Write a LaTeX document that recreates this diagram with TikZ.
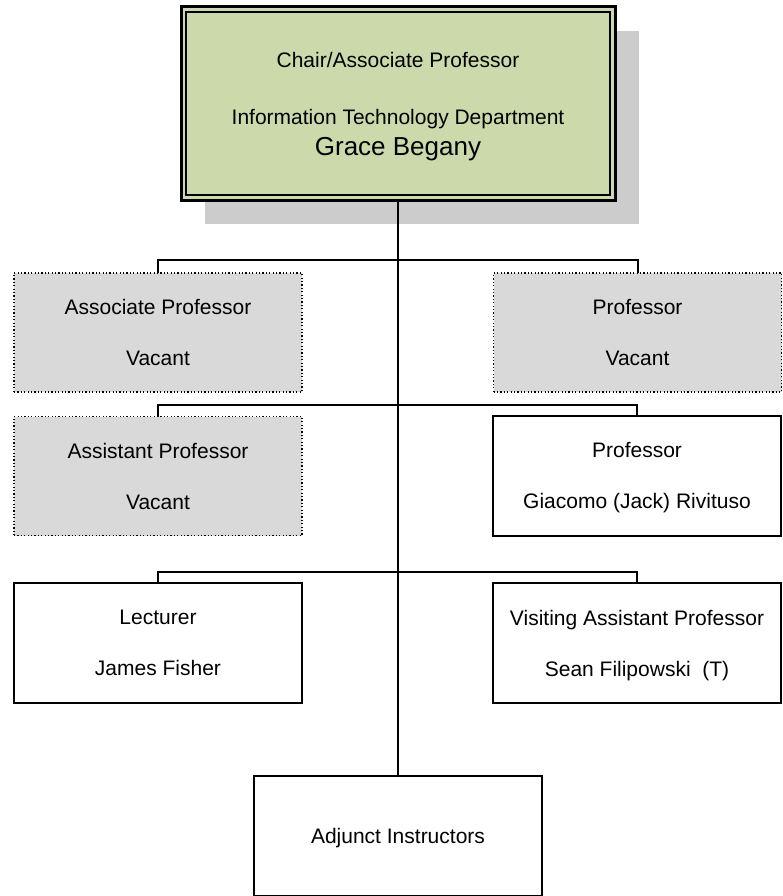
\documentclass[tikz,border=0pt]{standalone}
\usepackage{fontspec}
\setmainfont{Liberation Sans}
\usetikzlibrary{shadows}
\definecolor{chairgreen}{HTML}{CCDAAB}
\definecolor{vacantgrey}{HTML}{D9D9D9}
\definecolor{shadowgrey}{HTML}{CCCCCC}
\begin{document}
\begin{tikzpicture}[x=1pt,y=-1pt,
	chairbox/.style={draw,line width=3pt,outer sep=0pt,fill=chairgreen,minimum width=434pt,minimum height=193pt,align=center,text depth=-1.5pt,font=\fontsize{21}{25}\selectfont,drop shadow={shadow xshift=24pt,shadow yshift=-24pt,fill=shadowgrey,opacity=1}},
	vacantbox/.style={draw,line width=1.2pt,dash pattern=on 1.2pt off 2.2pt,outer sep=0pt,fill=vacantgrey,minimum width=288pt,minimum height=119pt,align=center,font=\fontsize{21}{51}\selectfont},
	staffbox/.style={draw,line width=2pt,outer sep=0pt,minimum width=288pt,minimum height=120pt,align=center,text depth=-4pt,font=\fontsize{21}{51}\selectfont},
	link/.style={line width=2pt}]
				\useasboundingbox(0,0)rectangle(783,896);
				\node[chairbox](chair)at(398,103.5){Chair/Associate Professor\\[32pt]Information Technology Department\\[6pt]{\fontsize{26}{30}\selectfont Grace Begany}};
				\draw[line width=1.5pt]([shift={(5,5)}]chair.north west)rectangle([shift={(-5,-5)}]chair.south east);
				\node[vacantbox](assocprof)at(158,332.5){Associate Professor\\Vacant};
				\node[vacantbox](prof)at(637.5,332.5){Professor\\Vacant};
				\node[vacantbox](asstprof)at(158,476){Assistant Professor\\Vacant};
				\node[staffbox](profjack)at(637,475.5){Professor\\Giacomo (Jack) Rivituso};
				\node[staffbox](lecturer)at(158,643){Lecturer\\James Fisher};
				\node[staffbox](visiting)at(637,643){Visiting Assistant Professor\\Sean Filipowski\ \ (T)};
				\node[staffbox](adjunct)at(398,835.5){Adjunct Instructors};
				\draw[link](chair.south)--(adjunct.north);
				\draw[link](assocprof.north)--++(0,-13)-|(prof.north);
				\draw[link](asstprof.north)--++(0,-12)-|(profjack.north);
				\draw[link](lecturer.north)--++(0,-11)-|(visiting.north);
			\end{tikzpicture}
\end{document}
